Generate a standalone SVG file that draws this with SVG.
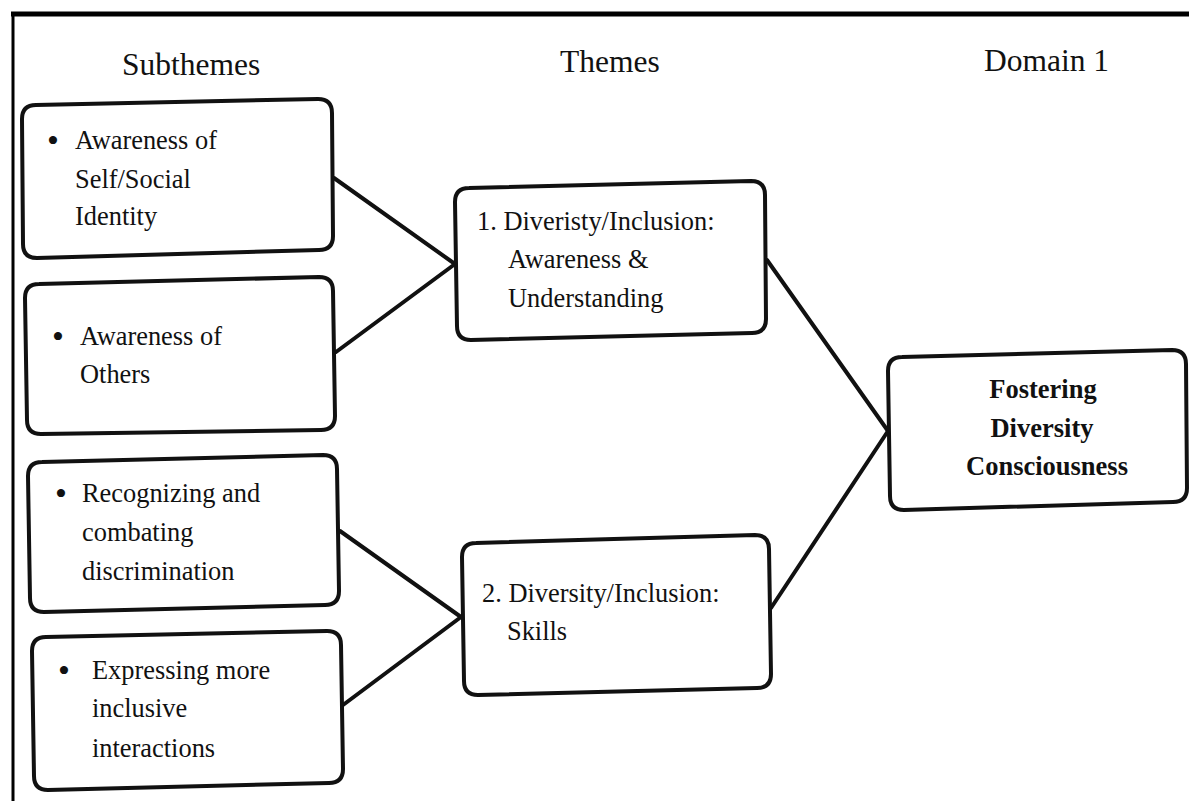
<svg xmlns="http://www.w3.org/2000/svg" width="1189" height="801" viewBox="0 0 1189 801">
  <style>
    .box { fill: #fff; stroke: #111; stroke-width: 4; stroke-linejoin: round; }
    .link { stroke: #111; stroke-width: 4; stroke-linecap: round; fill: none; }
    .frame { stroke: #000; fill: none; }
    .head { font-family: "Liberation Serif", "Times New Roman", serif; font-size: 31.5px; fill: #111; }
    .txt { font-family: "Liberation Serif", "Times New Roman", serif; font-size: 26.4px; fill: #111; }
    .dot { font-family: "Liberation Serif", "Times New Roman", serif; font-size: 34px; fill: #111; }
    .bold { font-family: "Liberation Serif", "Times New Roman", serif; font-size: 26.5px; font-weight: bold; fill: #111; text-anchor: middle; }
  </style>
  <rect width="1189" height="801" fill="#fff"/>

  <!-- outer frame: top and left edges -->
  <g id="frame">
    <line class="frame" x1="11" y1="14" x2="1189" y2="14" stroke-width="5"/>
    <line class="frame" x1="13" y1="12" x2="13" y2="801" stroke-width="3"/>
  </g>

  <!-- column headings -->
  <g id="headings">
    <text class="head" x="122" y="75">Subthemes</text>
    <text class="head" x="560" y="72">Themes</text>
    <text class="head" x="984" y="71">Domain 1</text>
  </g>

  <!-- connectors -->
  <g id="connectors">
    <line class="link" x1="334" y1="178" x2="455" y2="264"/>
    <line class="link" x1="336" y1="352" x2="455" y2="264"/>
    <line class="link" x1="340" y1="531" x2="461" y2="617"/>
    <line class="link" x1="343" y1="705" x2="461" y2="617"/>
    <line class="link" x1="767" y1="260" x2="888" y2="431"/>
    <line class="link" x1="771" y1="608" x2="888" y2="431"/>
  </g>

  <!-- subtheme boxes -->
  <g id="sub-self">
    <path class="box" d="M22,119 Q22,105 36,105 L318,99 Q332,99 332,113 L333,236 Q333,250 319,250 L37,258 Q23,258 23,244 Z"/>
    <text class="dot" x="47" y="152">•</text>
    <text class="txt" x="75" y="149">Awareness of</text>
    <text class="txt" x="75" y="188">Self/Social</text>
    <text class="txt" x="75" y="225">Identity</text>
  </g>

  <g id="sub-others">
    <path class="box" d="M25,298 Q25,284 39,284 L319,277 Q333,277 333,291 L335,416 Q335,430 321,430 L41,434 Q27,434 27,420 Z"/>
    <text class="dot" x="52" y="348">•</text>
    <text class="txt" x="80" y="345">Awareness of</text>
    <text class="txt" x="80" y="383">Others</text>
  </g>

  <g id="sub-discrimination">
    <path class="box" d="M28,476 Q28,462 42,462 L323,455 Q337,455 337,469 L339,591 Q339,605 325,605 L44,612 Q30,612 30,598 Z"/>
    <text class="dot" x="55" y="505">•</text>
    <text class="txt" x="82" y="502">Recognizing and</text>
    <text class="txt" x="82" y="541">combating</text>
    <text class="txt" x="82" y="580">discrimination</text>
  </g>

  <g id="sub-interactions">
    <path class="box" d="M32,651 Q32,637 46,637 L327,631 Q341,631 341,645 L343,769 Q343,783 329,783 L48,790 Q34,790 34,776 Z"/>
    <text class="dot" x="58" y="682">•</text>
    <text class="txt" x="92" y="679">Expressing more</text>
    <text class="txt" x="92" y="717">inclusive</text>
    <text class="txt" x="92" y="757">interactions</text>
  </g>

  <!-- theme boxes -->
  <g id="theme-awareness">
    <path class="box" d="M455,202 Q455,188 469,188 L751,181 Q765,181 765,195 L766,319 Q766,333 752,333 L471,340 Q457,340 457,326 Z"/>
    <text class="txt" x="477" y="230">1. Diveristy/Inclusion:</text>
    <text class="txt" x="508" y="268">Awareness &amp;</text>
    <text class="txt" x="508" y="307">Understanding</text>
  </g>

  <g id="theme-skills">
    <path class="box" d="M462,557 Q462,543 476,543 L755,535 Q769,535 769,549 L771,674 Q771,688 757,688 L478,695 Q464,695 464,681 Z"/>
    <text class="txt" x="482" y="602">2. Diversity/Inclusion:</text>
    <text class="txt" x="507" y="640">Skills</text>
  </g>

  <!-- domain box -->
  <g id="domain">
    <path class="box" d="M888,371 Q888,357 902,357 L1172,350 Q1186,350 1186,364 L1187,488 Q1187,502 1173,502 L904,510 Q890,510 890,496 Z"/>
    <text class="bold" x="1043" y="398">Fostering</text>
    <text class="bold" x="1042" y="437">Diversity</text>
    <text class="bold" x="1047" y="475">Consciousness</text>
  </g>
</svg>
